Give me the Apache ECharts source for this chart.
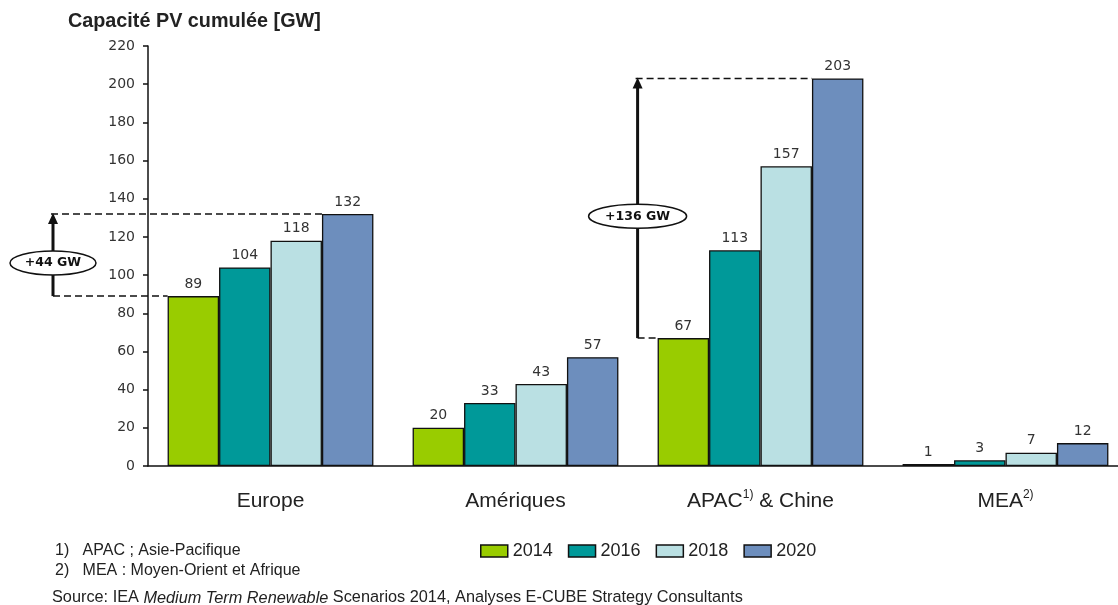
<!DOCTYPE html>
<html>
<head>
<meta charset="utf-8">
<script src="https://cdn.jsdelivr.net/npm/echarts@6/dist/echarts.min.js"></script>
<style>
  html, body { margin: 0; padding: 0; background: #fff; overflow: hidden; }
  #chart { width: 1130px; height: 605px; }
</style>
</head>
<body>
<div id="chart"></div>
<script>
// Regions and years
const regions = ['Europe', 'Amériques', 'APAC', 'MEA'];
const regionLabels = ['{a|Europe}', '{a|Amériques}', '{a|APAC}{sup|1)}{a| & Chine}', '{a|MEA}{sup|2)}'];
const years = ['2014', '2016', '2018', '2020'];

// Cumulative PV capacity [GW] per year, one value per region
const pv2014 = [89, 20, 67, 1];
const pv2016 = [104, 33, 113, 3];
const pv2018 = [118, 43, 157, 7];
const pv2020 = [132, 57, 203, 12];

// Y axis ticks
const yMin = 0, yMax = 220, yStep = 20;

// Growth call-outs (region index, text)
const growthRegions = [0, 2];
const growthTexts = ['+44 GW', '+136 GW'];

const colors = ['#99cc00', '#009999', '#bae0e3', '#6d8ebd'];
const seriesValues = [pv2014, pv2016, pv2018, pv2020];
const catGap = 0.16;

const chart = echarts.init(document.getElementById('chart'));

const option = {
  animation: false,
  backgroundColor: '#ffffff',
  grid: { left: 148, top: 46, width: 980, height: 420, containLabel: false },
  title: {
    text: 'Capacité PV cumulée [GW]',
    left: 63, top: 7,
    textStyle: { fontFamily: 'Liberation Sans, Arial', fontWeight: 'bold', fontSize: 19.8, color: '#222' }
  },
  legend: {
    data: years,
    left: 475, top: 537,
    icon: 'rect', itemWidth: 27, itemHeight: 12, itemGap: 15,
    itemStyle: { borderColor: '#111', borderWidth: 1.5 },
    textStyle: { fontFamily: 'Liberation Sans, Arial', fontSize: 18, color: '#222' }
  },
  xAxis: {
    type: 'category',
    data: regions,
    axisLine: { lineStyle: { color: '#111', width: 1.5 } },
    axisTick: { show: false },
    axisLabel: {
      interval: 0,
      margin: 23,
      fontFamily: 'Liberation Sans, Arial', fontSize: 21, color: '#222',
      formatter: (v, i) => regionLabels[i],
      rich: {
        a: { fontFamily: 'Liberation Sans, Arial', fontSize: 21, color: '#222', lineHeight: 24 },
        sup: { fontFamily: 'Liberation Sans, Arial', fontSize: 12, color: '#222', lineHeight: 24, verticalAlign: 'top', padding: [0, 0, 9, 0] }
      }
    }
  },
  yAxis: {
    type: 'value',
    min: yMin, max: yMax, interval: yStep,
    axisLine: { show: true, lineStyle: { color: '#111', width: 1.5 } },
    axisTick: { show: true, inside: false, length: 5, lineStyle: { color: '#111', width: 1.5 } },
    splitLine: { show: false },
    axisLabel: { margin: 13, fontFamily: 'DejaVu Sans, Verdana', fontSize: 14, color: '#333' }
  },
  series: years.map((y, k) => ({
    name: y,
    type: 'bar',
    data: seriesValues[k],
    barGap: '0%',
    barCategoryGap: (catGap * 100) + '%',
    itemStyle: { color: colors[k], borderColor: '#111', borderWidth: 1.3 },
    label: {
      show: true, position: 'top', distance: 5,
      fontFamily: 'DejaVu Sans, Verdana', fontSize: 14, color: '#333'
    }
  }))
};

chart.setOption(option);

// Growth arrows, dashed guides and ellipses, placed on the axes' scales
function buildCallouts() {
  const xc = i => chart.convertToPixel({ xAxisIndex: 0 }, i);
  const yp = v => chart.convertToPixel({ yAxisIndex: 0 }, v);
  const band = xc(1) - xc(0);
  const barW = band * (1 - catGap) / years.length;
  const axisX = xc(0) - band / 2;
  const groupLeft = i => xc(i) - barW * years.length / 2;

  const els = [];
  growthRegions.forEach((r, n) => {
    const lo = pv2014[r], hi = pv2020[r];
    const yLo = yp(lo), yHi = yp(hi);
    const ax = n === 0 ? axisX - 95 : groupLeft(r) - 20;
    const dash = { stroke: '#111', lineWidth: 1.5, lineDash: [7, 4] };
    // dashed guides
    els.push({ type: 'line', shape: { x1: ax - 2, y1: yHi, x2: groupLeft(r) + 3 * barW, y2: yHi }, style: dash, z: 10 });
    els.push({ type: 'line', shape: { x1: ax, y1: yLo, x2: groupLeft(r), y2: yLo }, style: dash, z: 10 });
    // shaft and arrow head
    els.push({ type: 'line', shape: { x1: ax, y1: yLo, x2: ax, y2: yHi + 8 }, style: { stroke: '#111', lineWidth: 3 }, z: 10 });
    els.push({ type: 'polygon', shape: { points: [[ax, yHi - 1], [ax - 5, yHi + 10], [ax + 5, yHi + 10]] }, style: { fill: '#111' }, z: 10 });
    // ellipse with text
    const cy = (yLo + yHi) / 2 + 8;
    const rx = n === 0 ? 43 : 49, ry = 12;
    els.push({ type: 'ellipse', shape: { cx: ax, cy: cy, rx: rx, ry: ry }, style: { fill: '#fff', stroke: '#111', lineWidth: 1.5 }, z: 11 });
    els.push({
      type: 'text', x: ax, y: cy, z: 12,
      style: { text: growthTexts[n], fontFamily: 'DejaVu Sans, Verdana', fontWeight: 'bold', fontSize: 12.5, fill: '#111', align: 'center', verticalAlign: 'middle' }
    });
  });

  // footnotes and source
  const note = { fontFamily: 'Liberation Sans, Arial', fontSize: 16, fill: '#222', verticalAlign: 'middle' };
  els.push({ type: 'text', x: 55, y: 551, style: Object.assign({ text: '1)   APAC ; Asie-Pacifique' }, note) });
  els.push({ type: 'text', x: 55, y: 571, style: Object.assign({ text: '2)   MEA : Moyen-Orient et Afrique' }, note) });
  els.push({
    type: 'text', x: 52, y: 598,
    style: {
      text: '{n|Source: IEA }{i|Medium Term Renewable}{n| Scenarios 2014, Analyses E-CUBE Strategy Consultants}',
      verticalAlign: 'middle',
      rich: {
        n: { fontFamily: 'Liberation Sans, Arial', fontSize: 16.3, fill: '#222' },
        i: { fontFamily: 'Liberation Sans, Arial', fontSize: 16.3, fontStyle: 'italic', fill: '#222' }
      }
    }
  });
  chart.setOption({ graphic: { elements: els } });
}
buildCallouts();
</script>
</body>
</html>
